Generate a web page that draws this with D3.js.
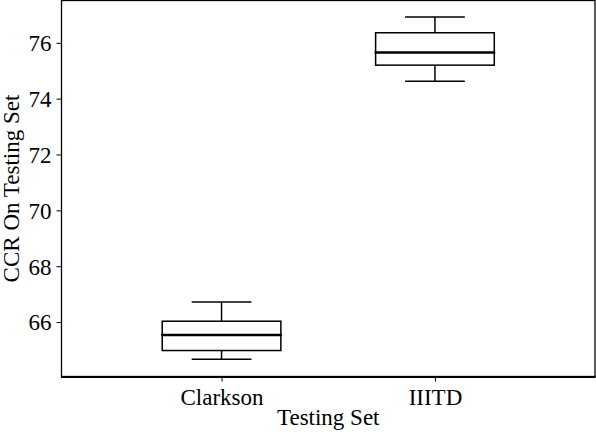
<!DOCTYPE html>
<html>
<head>
<meta charset="utf-8">
<script src="https://cdn.jsdelivr.net/npm/d3@7"></script>
</head>
<body style="margin:0;background:#fff">
<svg id="chart" width="596" height="440"></svg>
<script>
const categories = ["Clarkson", "IIITD"];
const positions = [1, 2];
const whiskerLow = [64.67, 74.62];
const q1 = [64.98, 75.20];
const median = [65.54, 75.65];
const q3 = [66.03, 76.36];
const whiskerHigh = [66.72, 76.92];
const yTicks = [66, 68, 70, 72, 74, 76];
const xLabel = "Testing Set";
const yLabel = "CCR On Testing Set";

const FONT = "Liberation Serif";
const FS = 23;

const svg = d3.select("#chart");
const mLeft = 61.5, mRight = 595, mTop = 0.5, mBottom = 376.5;

const x = d3.scaleLinear().domain([0.25, 2.75]).range([mLeft, mRight]);
const y = d3.scaleLinear().domain([64.05, 77.515]).range([mBottom, mTop]);

const boxHalf = 0.278, capHalf = 0.14;
const data = categories.map((c, i) => ({
  c, p: positions[i], lo: whiskerLow[i], q1: q1[i], med: median[i], q3: q3[i], hi: whiskerHigh[i]
}));

const bx = svg.append("g").selectAll("g.box").data(data).enter().append("g").attr("class", "box")
  .attr("stroke", "#000").attr("fill", "none");

bx.append("line").attr("x1", d => x(d.p)).attr("x2", d => x(d.p))
  .attr("y1", d => y(d.q3)).attr("y2", d => y(d.hi)).attr("stroke-width", 1.5);
bx.append("line").attr("x1", d => x(d.p)).attr("x2", d => x(d.p))
  .attr("y1", d => y(d.q1)).attr("y2", d => y(d.lo)).attr("stroke-width", 1.5);
bx.append("line").attr("x1", d => x(d.p - capHalf)).attr("x2", d => x(d.p + capHalf))
  .attr("y1", d => y(d.hi)).attr("y2", d => y(d.hi)).attr("stroke-width", 1.5);
bx.append("line").attr("x1", d => x(d.p - capHalf)).attr("x2", d => x(d.p + capHalf))
  .attr("y1", d => y(d.lo)).attr("y2", d => y(d.lo)).attr("stroke-width", 1.5);
bx.append("rect").attr("x", d => x(d.p - boxHalf)).attr("width", d => x(d.p + boxHalf) - x(d.p - boxHalf))
  .attr("y", d => y(d.q3)).attr("height", d => y(d.q1) - y(d.q3)).attr("stroke-width", 1.5);
bx.append("line").attr("x1", d => x(d.p - boxHalf) - 1).attr("x2", d => x(d.p + boxHalf) + 1)
  .attr("y1", d => y(d.med)).attr("y2", d => y(d.med)).attr("stroke-width", 2.5);

const yAxis = d3.axisLeft(y).tickValues(yTicks).tickSize(5).tickPadding(5).tickFormat(d3.format("d"));
const ya = svg.append("g").attr("transform", `translate(${mLeft},0)`).call(yAxis)
  .attr("font-family", FONT).attr("font-size", FS);
ya.select(".domain").remove();
ya.selectAll("line").attr("stroke", "#000").attr("stroke-width", 1);
ya.selectAll("text").attr("font-family", FONT).attr("font-size", FS).attr("fill", "#000").attr("dy", "0.34em");

const xAxis = d3.axisBottom(x).tickValues(positions).tickSize(5).tickPadding(6)
  .tickFormat((d, i) => categories[i]);
const xa = svg.append("g").attr("transform", `translate(0,${mBottom})`).call(xAxis)
  .attr("font-family", FONT).attr("font-size", FS);
xa.select(".domain").remove();
xa.selectAll("line").attr("stroke", "#000").attr("stroke-width", 1);
xa.selectAll("text").attr("font-family", FONT).attr("font-size", FS).attr("fill", "#000").attr("dy", "0.78em");

svg.append("rect").attr("x", mLeft).attr("y", mTop).attr("width", mRight - mLeft).attr("height", mBottom - mTop)
  .attr("fill", "none").attr("stroke", "#000").attr("stroke-width", 1.3);
svg.append("line").attr("x1", mLeft - 0.5).attr("x2", mRight + 0.5).attr("y1", mBottom + 0.5).attr("y2", mBottom + 0.5)
  .attr("stroke", "#000").attr("stroke-width", 2);

svg.append("text").attr("x", (mLeft + mRight) / 2).attr("y", 425).attr("text-anchor", "middle")
  .attr("font-family", FONT).attr("font-size", FS).attr("fill", "#000").text(xLabel);
svg.append("text").attr("transform", `translate(19,${(mTop + mBottom) / 2}) rotate(-90)`)
  .attr("text-anchor", "middle").attr("font-family", FONT).attr("font-size", FS).attr("fill", "#000").text(yLabel);
</script>
</body>
</html>
